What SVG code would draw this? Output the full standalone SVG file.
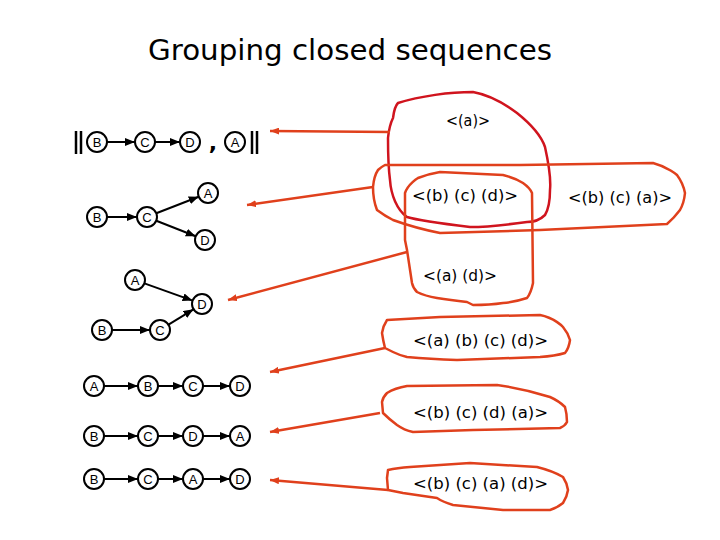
<svg xmlns="http://www.w3.org/2000/svg" width="720" height="540" viewBox="0 0 720 540">
<style>
.nd circle{fill:#fff;stroke:#000;stroke-width:2}
.nd text{font-family:"Liberation Sans",Arial,sans-serif;font-size:13px;text-anchor:middle;fill:#000}
.bl{stroke:#000;stroke-width:2;fill:none;marker-end:url(#ab)}
.rl{stroke:#e0401c;stroke-width:2.5;fill:none;marker-end:url(#ar)}
.loop{fill:none;stroke:#e0401c;stroke-width:2.5;stroke-linejoin:round}
.lab{font-family:"DejaVu Sans","Noto Sans",sans-serif;font-size:16px;fill:#000}
</style>
<defs>
<marker id="ab" markerUnits="userSpaceOnUse" markerWidth="10" markerHeight="8" refX="10" refY="4" orient="auto"><path d="M0,0 L10,4 L0,8 z" fill="#000"/></marker>
<marker id="ar" markerUnits="userSpaceOnUse" markerWidth="9" markerHeight="7" refX="9" refY="3.5" orient="auto"><path d="M0,0 L9,3.5 L0,7 z" fill="#e0401c"/></marker>
</defs>
<rect width="720" height="540" fill="#fff"/>
<text x="350" y="60" font-family="DejaVu Sans,sans-serif" font-size="29" textLength="404" lengthAdjust="spacingAndGlyphs" text-anchor="middle">Grouping closed sequences</text>

<g id="loops">
<path class="loop" style="stroke:#d0141e" d="M398,103 C420,96 450,92 473,92 C490,95 505,104 517,113 C532,125 542,138 545,147 C549,165 551,180 550,190 C550,203 548,210 545,215 C540,220 533,222 527,222 C505,225 485,227 470,227 C445,224 420,221 407,217 C397,210 391,195 390,180 C388,165 388,150 388,138 C389,128 391,122 393,118 C394,110 396,105 398,103 Z"/>
<path class="loop" d="M385,165 L520,165 L653,163 C668,167 677,175 677,175 C683,183 685,193 685,193 C684,203 680,210 680,210 C674,218 667,224 667,224 L540,230 L440,233 C415,228 393,220 393,220 C385,216 377,210 377,210 C373,200 373,187 373,187 C374,176 378,170 378,170 C381,167 385,165 385,165 Z"/>
<path class="loop" d="M405,240 L405,193 C408,184 418,178 418,178 C428,174 440,172 440,172 L503,175 C515,178 523,183 523,183 C530,188 532,193 532,193 L533,283 C531,293 527,298 527,298 C515,302 503,303 503,303 C490,305 473,305 473,305 L467,302 C450,300 437,298 437,298 C425,296 417,292 417,292 C413,288 412,283 412,283 L407,250 L405,240 Z"/>
<path class="loop" d="M387,320 L440,317 L540,315 C555,318 563,327 563,327 C568,333 570,340 570,340 C569,348 565,353 565,353 C555,356 540,357 540,357 L457,360 C430,359 407,357 407,357 C399,355 393,352 393,352 L385,348 C383,340 382,333 382,333 C383,326 387,320 387,320 Z"/>
<path class="loop" d="M387,393 C395,388 407,386 407,386 L497,385 C525,389 550,397 550,397 C559,401 565,407 565,407 C567,414 567,422 567,422 C565,426 560,428 560,428 L473,430 L413,432 C404,430 397,425 397,425 C389,419 383,413 383,413 L382,402 C383,397 387,393 387,393 Z"/>
<path class="loop" d="M388,470 C397,468 410,467 410,467 L470,463 L537,467 C553,471 563,477 563,477 C567,483 568,490 568,490 C567,497 563,503 563,503 C557,508 550,510 550,510 L503,510 L453,505 C443,502 437,498 437,498 L403,493 L388,490 L387,478 Z"/>
</g>

<g id="connectors">
<line class="bl" x1="107" y1="142" x2="135" y2="142"/>
<line class="bl" x1="155" y1="142" x2="180" y2="142"/>
<line class="bl" x1="107" y1="217" x2="137" y2="217"/>
<line class="bl" x1="156.3" y1="213.3" x2="198.7" y2="196.7"/>
<line class="bl" x1="156.3" y1="220.7" x2="195.7" y2="236.3"/>
<line class="bl" x1="144.4" y1="283.4" x2="192.6" y2="300.6"/>
<line class="bl" x1="112" y1="330" x2="150" y2="330"/>
<line class="bl" x1="168.5" y1="324.7" x2="193.5" y2="309.3"/>
<line class="bl" x1="104" y1="386" x2="138" y2="386"/>
<line class="bl" x1="158" y1="386" x2="183" y2="386"/>
<line class="bl" x1="203" y1="386" x2="230" y2="386"/>
<line class="bl" x1="104" y1="436" x2="138" y2="436"/>
<line class="bl" x1="158" y1="436" x2="183" y2="436"/>
<line class="bl" x1="203" y1="436" x2="230" y2="436"/>
<line class="bl" x1="104" y1="479" x2="138" y2="479"/>
<line class="bl" x1="158" y1="479" x2="183" y2="479"/>
<line class="bl" x1="203" y1="479" x2="230" y2="479"/>
<line class="rl" x1="390" y1="132" x2="270" y2="131"/>
<line class="rl" x1="373" y1="187" x2="247" y2="205"/>
<line class="rl" x1="407" y1="252" x2="228" y2="300"/>
<line class="rl" x1="385" y1="348" x2="270" y2="372"/>
<line class="rl" x1="380" y1="413" x2="270" y2="432"/>
<line class="rl" x1="388" y1="490" x2="270" y2="480"/>
</g>

<g id="bars" stroke="#000" stroke-width="2.5">
<line x1="76" y1="131" x2="76" y2="154"/><line x1="81" y1="131" x2="81" y2="154"/>
<line x1="252" y1="131" x2="252" y2="154"/><line x1="257" y1="131" x2="257" y2="154"/>
</g>
<text x="213" y="150" font-family="DejaVu Sans,sans-serif" font-size="22" font-weight="bold" text-anchor="middle">,</text>

<g id="n1B" class="nd"><circle cx="97" cy="142" r="10"/><text x="97" y="147">B</text></g>
<g id="n1C" class="nd"><circle cx="145" cy="142" r="10"/><text x="145" y="147">C</text></g>
<g id="n1D" class="nd"><circle cx="190" cy="142" r="10"/><text x="190" y="147">D</text></g>
<g id="n1A" class="nd"><circle cx="235" cy="142" r="10"/><text x="235" y="147">A</text></g>

<g id="n2B" class="nd"><circle cx="97" cy="217" r="10"/><text x="97" y="222">B</text></g>
<g id="n2C" class="nd"><circle cx="147" cy="217" r="10"/><text x="147" y="222">C</text></g>
<g id="n2A" class="nd"><circle cx="208" cy="193" r="10"/><text x="208" y="198">A</text></g>
<g id="n2D" class="nd"><circle cx="205" cy="240" r="10"/><text x="205" y="245">D</text></g>

<g id="n3A" class="nd"><circle cx="135" cy="280" r="10"/><text x="135" y="285">A</text></g>
<g id="n3D" class="nd"><circle cx="202" cy="304" r="10"/><text x="202" y="309">D</text></g>
<g id="n3B" class="nd"><circle cx="102" cy="330" r="10"/><text x="102" y="335">B</text></g>
<g id="n3C" class="nd"><circle cx="160" cy="330" r="10"/><text x="160" y="335">C</text></g>

<g id="n4A" class="nd"><circle cx="94" cy="386" r="10"/><text x="94" y="391">A</text></g>
<g id="n4B" class="nd"><circle cx="148" cy="386" r="10"/><text x="148" y="391">B</text></g>
<g id="n4C" class="nd"><circle cx="193" cy="386" r="10"/><text x="193" y="391">C</text></g>
<g id="n4D" class="nd"><circle cx="240" cy="386" r="10"/><text x="240" y="391">D</text></g>

<g id="n5B" class="nd"><circle cx="94" cy="436" r="10"/><text x="94" y="441">B</text></g>
<g id="n5C" class="nd"><circle cx="148" cy="436" r="10"/><text x="148" y="441">C</text></g>
<g id="n5D" class="nd"><circle cx="193" cy="436" r="10"/><text x="193" y="441">D</text></g>
<g id="n5A" class="nd"><circle cx="240" cy="436" r="10"/><text x="240" y="441">A</text></g>

<g id="n6B" class="nd"><circle cx="94" cy="479" r="10"/><text x="94" y="484">B</text></g>
<g id="n6C" class="nd"><circle cx="148" cy="479" r="10"/><text x="148" y="484">C</text></g>
<g id="n6A" class="nd"><circle cx="193" cy="479" r="10"/><text x="193" y="484">A</text></g>
<g id="n6D" class="nd"><circle cx="240" cy="479" r="10"/><text x="240" y="484">D</text></g>

<g id="labels">
<text class="lab" x="446" y="126" textLength="44" lengthAdjust="spacingAndGlyphs">&lt;(a)&gt;</text>
<text class="lab" x="412" y="201" textLength="106" lengthAdjust="spacingAndGlyphs">&lt;(b) (c) (d)&gt;</text>
<text class="lab" x="423" y="281" textLength="74" lengthAdjust="spacingAndGlyphs">&lt;(a) (d)&gt;</text>
<text class="lab" x="568" y="203" textLength="104" lengthAdjust="spacingAndGlyphs">&lt;(b) (c) (a)&gt;</text>
<text class="lab" x="413" y="346" textLength="135" lengthAdjust="spacingAndGlyphs">&lt;(a) (b) (c) (d)&gt;</text>
<text class="lab" x="413" y="418" textLength="135" lengthAdjust="spacingAndGlyphs">&lt;(b) (c) (d) (a)&gt;</text>
<text class="lab" x="413" y="489" textLength="135" lengthAdjust="spacingAndGlyphs">&lt;(b) (c) (a) (d)&gt;</text>
</g>
</svg>
